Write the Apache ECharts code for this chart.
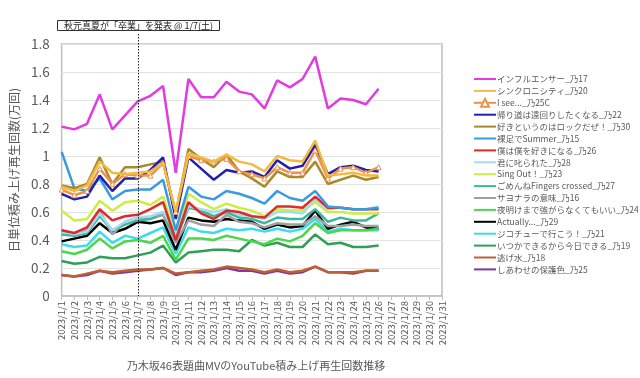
<!DOCTYPE html>
<html lang="ja">
<head>
<meta charset="UTF-8">
<title>乃木坂46表題曲MV</title>
<script src="https://cdn.jsdelivr.net/npm/echarts@6/dist/echarts.min.js"></script>
<style>
  html, body { margin: 0; padding: 0; background: #fff; }
  #main { width: 640px; height: 378px; }
</style>
</head>
<body>
<div id="main"></div>
<script>
// 日付 (x軸)
var dates = [];
for (var d = 1; d <= 31; d++) dates.push('2023/1/' + d);

// 各曲の日単位再生回数 (万回), 1/1 - 1/26
var influencer = [1.21,1.19,1.23,1.44,1.19,1.29,1.39,1.43,1.50,0.88,1.55,1.42,1.42,1.53,1.46,1.44,1.34,1.54,1.49,1.55,1.71,1.34,1.41,1.40,1.37,1.48];
var synchronicity = [0.78,0.75,0.79,0.96,0.88,0.87,0.88,0.89,0.95,0.60,1.02,0.99,0.96,1.01,0.96,0.94,0.89,1.00,0.97,0.96,1.11,0.86,0.87,0.88,0.86,0.86];
var isee = [0.76,0.72,0.75,0.91,0.80,0.87,0.86,0.86,0.95,0.60,1.00,0.97,0.96,0.98,0.89,0.87,0.84,0.92,0.88,0.88,1.04,0.84,0.91,0.92,0.88,0.92];
var kaerimichi = [0.73,0.69,0.71,0.86,0.75,0.84,0.84,0.90,0.99,0.55,0.99,0.91,0.83,0.90,0.88,0.89,0.85,0.97,0.91,0.93,1.08,0.87,0.92,0.93,0.90,0.89];
var sukitoiu = [0.79,0.77,0.80,0.99,0.80,0.92,0.92,0.94,0.96,0.58,1.05,0.98,0.92,1.01,0.89,0.84,0.78,0.89,0.85,0.85,0.96,0.80,0.83,0.86,0.83,0.85];
var hadashi = [1.03,0.77,0.75,0.84,0.69,0.75,0.76,0.76,0.83,0.47,0.78,0.71,0.69,0.75,0.73,0.70,0.66,0.75,0.70,0.68,0.75,0.64,0.63,0.62,0.62,0.63];
var bokuwaboku = [0.47,0.45,0.49,0.62,0.54,0.57,0.58,0.62,0.67,0.40,0.67,0.59,0.55,0.61,0.60,0.57,0.56,0.64,0.64,0.63,0.71,0.63,0.63,0.62,0.62,0.62];
var shikarareta = [0.46,0.44,0.46,0.59,0.47,0.53,0.56,0.57,0.60,0.45,0.64,0.62,0.60,0.62,0.58,0.57,0.55,0.60,0.60,0.59,0.69,0.62,0.63,0.62,0.62,0.64];
var singout = [0.61,0.54,0.55,0.68,0.61,0.67,0.68,0.65,0.71,0.43,0.73,0.67,0.62,0.66,0.63,0.61,0.57,0.62,0.61,0.61,0.67,0.60,0.60,0.59,0.59,0.59];
var gomenne = [0.44,0.43,0.45,0.57,0.47,0.51,0.54,0.55,0.60,0.40,0.63,0.61,0.57,0.60,0.56,0.55,0.52,0.56,0.55,0.55,0.62,0.53,0.56,0.54,0.54,0.59];
var sayonara = [0.47,0.43,0.47,0.61,0.44,0.53,0.56,0.55,0.58,0.38,0.54,0.51,0.50,0.58,0.53,0.52,0.49,0.52,0.51,0.51,0.57,0.50,0.50,0.51,0.50,0.50];
var yoakemade = [0.32,0.30,0.33,0.41,0.34,0.39,0.40,0.38,0.43,0.26,0.41,0.41,0.40,0.43,0.41,0.39,0.37,0.41,0.39,0.43,0.52,0.45,0.47,0.47,0.47,0.48];
var actually = [0.39,0.41,0.43,0.52,0.45,0.48,0.53,0.52,0.54,0.33,0.56,0.54,0.53,0.55,0.54,0.53,0.48,0.51,0.49,0.50,0.61,0.48,0.51,0.53,0.49,0.48];
var jikochu = [0.37,0.35,0.36,0.46,0.38,0.43,0.41,0.45,0.49,0.30,0.49,0.46,0.45,0.48,0.47,0.48,0.46,0.48,0.46,0.48,0.55,0.46,0.48,0.47,0.47,0.47];
var itsuka = [0.25,0.23,0.24,0.28,0.27,0.27,0.29,0.31,0.36,0.24,0.31,0.32,0.33,0.33,0.32,0.40,0.36,0.38,0.35,0.35,0.44,0.37,0.38,0.35,0.35,0.36];
var nigemizu = [0.15,0.14,0.16,0.18,0.17,0.18,0.19,0.19,0.20,0.16,0.17,0.18,0.19,0.21,0.20,0.19,0.17,0.19,0.17,0.18,0.21,0.17,0.17,0.17,0.18,0.18];
var shiawase = [0.15,0.14,0.15,0.18,0.16,0.17,0.18,0.19,0.20,0.15,0.17,0.17,0.18,0.20,0.18,0.18,0.16,0.18,0.16,0.17,0.21,0.17,0.17,0.16,0.18,0.18];

var songs = [
  ['インフルエンサー_乃17', influencer, '#E03CE0'],
  ['シンクロニシティ_乃20', synchronicity, '#F2BB3F'],
  ['I see..._乃25C', isee, '#F0924A'],
  ['帰り道は遠回りしたくなる_乃22', kaerimichi, '#2020B0'],
  ['好きというのはロックだぜ！_乃30', sukitoiu, '#A8892C'],
  ['裸足でSummer_乃15', hadashi, '#3A9AE0'],
  ['僕は僕を好きになる_乃26', bokuwaboku, '#DD2A2A'],
  ['君に叱られた_乃28', shikarareta, '#A6DAF0'],
  ['Sing Out！_乃23', singout, '#CCEE44'],
  ['ごめんねFingers crossed_乃27', gomenne, '#3BB89C'],
  ['サヨナラの意味_乃16', sayonara, '#A0A0A0'],
  ['夜明けまで強がらなくてもいい_乃24', yoakemade, '#4CD64C'],
  ['Actually..._乃29', actually, '#000000'],
  ['ジコチューで行こう！_乃21', jikochu, '#3CDCEC'],
  ['いつかできるから今日できる_乃19', itsuka, '#2EA055'],
  ['逃げ水_乃18', nigemizu, '#C06030'],
  ['しあわせの保護色_乃25', shiawase, '#7A3AA0']
];
var markedSong = 'I see..._乃25C';

var font = '"Noto Sans CJK JP", "Noto Sans", sans-serif';

var series = songs.map(function (s, i) {
  var marked = (s[0] === markedSong);
  return {
    name: s[0],
    type: 'line',
    data: s[1],
    color: s[2],
    z: 20 - i,
    symbol: marked ? 'triangle' : 'none',
    symbolSize: 5,
    showSymbol: marked,
    itemStyle: { color: marked ? '#fff' : s[2], borderColor: s[2], borderWidth: 1 },
    lineStyle: { color: s[2], width: 2.5 },
    emphasis: { disabled: true },
    animation: false
  };
});

var chart = echarts.init(document.getElementById('main'));
var option = {
  backgroundColor: '#fff',
  textStyle: { fontFamily: font },
  title: [{
    text: '秋元真夏が「卒業」を発表 @ 1/7(土)',
    left: 57, top: 20,
    padding: [1, 7, 1, 7],
    borderColor: '#333', borderWidth: 1,
    textStyle: { fontSize: 9, fontWeight: 'normal', color: '#222', fontFamily: font }
  }, {
    text: '乃木坂46表題曲MVのYouTube積み上げ再生回数推移',
    left: 251, top: 355, textAlign: 'center',
    textStyle: { fontSize: 11, fontWeight: 'normal', color: '#595959', fontFamily: font }
  }],
  legend: {
    orient: 'vertical',
    left: 468, top: 69,
    itemWidth: 22, itemHeight: 10,
    itemGap: 1.9,
    textStyle: { fontSize: 8.5, color: '#595959', fontFamily: font, padding: [0, 0, 0, -4] },
    data: songs.map(function (s) {
      if (s[0] === markedSong) return { name: s[0] };
      return { name: s[0], itemStyle: { opacity: 0 } };
    })
  },
  grid: {
    left: 57, right: 198, top: 44, bottom: 82,
    show: true, borderColor: '#BFBFBF', borderWidth: 1.5
  },
  xAxis: {
    type: 'category',
    data: dates,
    boundaryGap: false,
    axisLine: { lineStyle: { color: '#BFBFBF', width: 1.5 } },
    axisTick: { show: true, interval: 0, length: 4, lineStyle: { color: '#BFBFBF' } },
    axisLabel: { interval: 0, rotate: 90, fontSize: 9.5, color: '#595959', margin: 5 },
    splitLine: { show: false }
  },
  yAxis: {
    type: 'value',
    min: 0, max: 1.8, interval: 0.2,
    name: '日単位積み上げ再生回数(万回)',
    nameLocation: 'middle',
    nameGap: 40,
    nameTextStyle: { fontSize: 12, color: '#595959' },
    axisLine: { show: false },
    axisTick: { show: false },
    axisLabel: { fontSize: 13.5, color: '#595959', margin: 12 },
    splitLine: { lineStyle: { color: '#E3E3E3', width: 1 } }
  },
  series: series
};
chart.setOption(option);

// 1/7 の点線 (注記の枠から軸まで)
var p7 = chart.convertToPixel({ gridIndex: 0 }, ['2023/1/7', 0]);
chart.setOption({
  graphic: [{
    type: 'line',
    shape: { x1: Math.round(p7[0]) + 0.5, y1: 34, x2: Math.round(p7[0]) + 0.5, y2: p7[1] },
    style: { stroke: '#222', lineWidth: 1, lineDash: [1.5, 1.5] },
    z: 100
  }]
});
</script>
</body>
</html>
